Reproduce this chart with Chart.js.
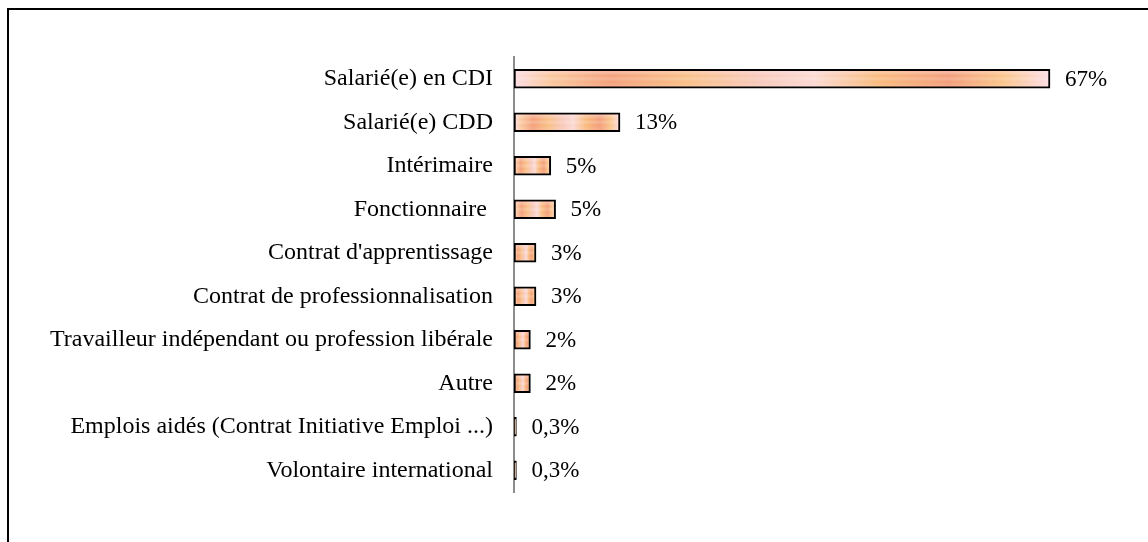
<!DOCTYPE html>
<html lang="fr">
<head>
    <meta charset="UTF-8">
    <title>Statut de l'emploi</title>
    <script src="https://cdn.jsdelivr.net/npm/chart.js"></script>
    <style>
        html, body { margin: 0; padding: 0; background: #fff; }
        canvas { display: block; }
    </style>
</head>
<body>
    <canvas id="chart" width="1148" height="542"></canvas>
    <script>
        // données
        const categories = [
            'Salarié(e) en CDI',
            'Salarié(e) CDD',
            'Intérimaire',
            'Fonctionnaire ',
            "Contrat d'apprentissage",
            'Contrat de professionnalisation',
            'Travailleur indépendant ou profession libérale',
            'Autre',
            'Emplois aidés (Contrat Initiative Emploi ...)',
            'Volontaire international'
        ];
        const values = [67, 13.25, 4.6, 5.2, 2.75, 2.75, 2.05, 2.05, 0.3, 0.3];
        const valueLabels = ['67%', '13%', '5%', '5%', '3%', '3%', '2%', '2%', '0,3%', '0,3%'];

        const FONT = "'Liberation Serif', 'Times New Roman', serif";

        // dégradé horizontal "pêche" sur la longueur de chaque barre
        function peachGradient(ctx) {
            const chart = ctx.chart;
            if (!chart.chartArea || ctx.raw == null) return '#f6b08a';
            const xs = chart.scales.x;
            const x0 = xs.getPixelForValue(0);
            const x1 = xs.getPixelForValue(ctx.raw);
            if (x1 - x0 < 1) return '#f6b08a';
            const g = chart.ctx.createLinearGradient(x0, 0, x1, 0);
            g.addColorStop(0, '#fcdde3');
            g.addColorStop(0.07, '#fac79c');
            g.addColorStop(0.18, '#f4a07a');
            g.addColorStop(0.32, '#f9bf86');
            g.addColorStop(0.46, '#f8c9bc');
            g.addColorStop(0.56, '#fbd9d2');
            g.addColorStop(0.68, '#f9ba7c');
            g.addColorStop(0.81, '#f39d7a');
            g.addColorStop(0.91, '#fac488');
            g.addColorStop(1, '#fcdde6');
            return g;
        }

        // reflet vertical par-dessus les barres
        const shinePlugin = {
            id: 'shine',
            afterDatasetsDraw(chart) {
                const c = chart.ctx;
                const bw = 2;
                chart.getDatasetMeta(0).data.forEach(bar => {
                    const left = Math.min(bar.base, bar.x) + bw;
                    const w = Math.abs(bar.x - bar.base) - 2 * bw;
                    const top = bar.y - bar.height / 2 + bw;
                    const h = bar.height - 2 * bw;
                    if (w <= 0 || h <= 0) return;
                    const g = c.createLinearGradient(0, top, 0, top + h);
                    g.addColorStop(0, 'rgba(255,228,238,0.45)');
                    g.addColorStop(0.3, 'rgba(255,255,255,0)');
                    g.addColorStop(0.5, 'rgba(255,250,248,0.22)');
                    g.addColorStop(0.7, 'rgba(255,255,255,0)');
                    g.addColorStop(1, 'rgba(255,238,244,0.15)');
                    c.save();
                    c.fillStyle = g;
                    c.fillRect(left, top, w, h);
                    c.restore();
                });
            }
        };

        // étiquettes de valeur au bout des barres
        const valueLabelPlugin = {
            id: 'valueLabels',
            afterDatasetsDraw(chart) {
                const c = chart.ctx;
                c.save();
                c.font = '23px ' + FONT;
                c.fillStyle = '#000';
                c.textAlign = 'left';
                c.textBaseline = 'middle';
                chart.getDatasetMeta(0).data.forEach((bar, i) => {
                    c.fillText(valueLabels[i], bar.x + 15, bar.y + 1);
                });
                c.restore();
            }
        };

        // cadre du graphique
        const framePlugin = {
            id: 'frame',
            beforeDraw(chart) {
                const c = chart.ctx;
                c.save();
                c.fillStyle = '#fff';
                c.fillRect(0, 0, chart.width, chart.height);
                c.strokeStyle = '#000';
                c.lineWidth = 2;
                c.strokeRect(8, 9, chart.width + 20, chart.height + 20);
                c.restore();
            }
        };

        window.onload = function() {
            const ctx = document.getElementById('chart').getContext('2d');
            new Chart(ctx, {
                type: 'bar',
                data: {
                    labels: categories,
                    datasets: [{
                        data: values,
                        backgroundColor: peachGradient,
                        borderColor: '#000',
                        borderWidth: 2,
                        borderSkipped: false,
                        barThickness: 19
                    }]
                },
                options: {
                    indexAxis: 'y',
                    responsive: false,
                    animation: false,
                    layout: { padding: { left: 0, right: 34, top: 57, bottom: 50 } },
                    plugins: {
                        legend: { display: false },
                        tooltip: { enabled: false }
                    },
                    scales: {
                        x: { display: false, min: 0, max: 75 },
                        y: {
                            grid: { display: false, drawTicks: false },
                            border: { display: true, color: '#8c8c8c', width: 2 },
                            ticks: {
                                padding: 21,
                                color: '#000',
                                font: { family: FONT, size: 24 }
                            },
                            afterFit(scale) { scale.width = 514; }
                        }
                    }
                },
                plugins: [framePlugin, shinePlugin, valueLabelPlugin]
            });
        };
    </script>
</body>
</html>
